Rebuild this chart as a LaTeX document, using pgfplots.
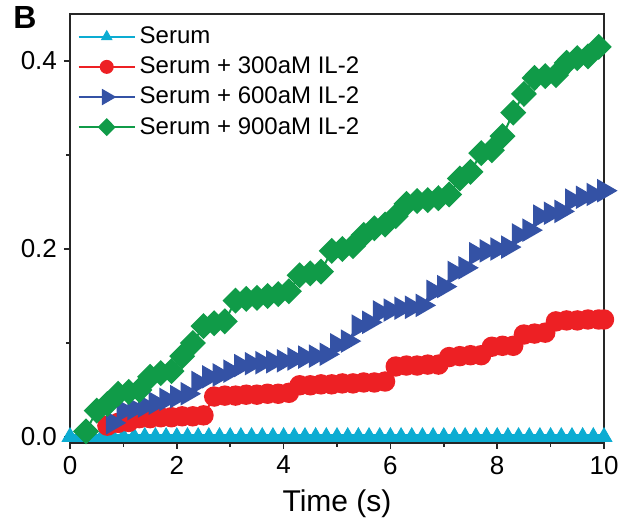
\documentclass[border=0pt]{standalone}
\usepackage{fontspec}
\setmainfont{Liberation Sans}
\usepackage{pgfplots}
\pgfplotsset{compat=1.18}

\definecolor{cserum}{RGB}{12,172,210}
\definecolor{cred}{RGB}{237,32,36}
\definecolor{cblue}{RGB}{52,82,165}
\definecolor{cgreen}{RGB}{16,155,72}

\begin{document}
\begin{tikzpicture}
\useasboundingbox (-35pt,-40.5pt) rectangle (278.5pt,221.5pt);
\begin{axis}[
    name=main,
    anchor=south west, at={(0pt,0pt)},
    width=267pt, height=214.5pt, scale only axis,
    xmin=0, xmax=10, ymin=-0.0064, ymax=0.45,
    xtick={0,2,...,10}, minor x tick num=1,
    ytick={0,0.2,0.4}, minor y tick num=1,
    tick align=outside, xtick pos=bottom, ytick pos=left,
    major tick length=3pt, minor tick length=2pt,
    axis line style={line width=0.75pt, black!85},
    every tick/.style={line width=0.75pt, black!85},
    yticklabel style={/pgf/number format/.cd, fixed, fixed zerofill, precision=1},
    /pgf/number format/assume math mode=true,
    ticklabel style={font=\fontsize{13}{15}\selectfont},
    xlabel={Time (s)},
    xlabel style={font=\fontsize{15}{18}\selectfont, yshift=-1pt},
    legend style={at={(0.01,0.985)}, anchor=north west, draw=none, fill=none,
        font=\fontsize{12}{13}\selectfont, row sep=1.2pt, inner sep=1pt,
        legend cell align=left},
    legend image code/.code={%
        \draw[mark repeat=2, mark phase=2, #1, line width=1pt,
            /tikz/every mark/.append style={scale=0.65}]
        plot coordinates {(0pt,0pt) (14pt,0pt) (28pt,0pt)};},
]

% Serum
\addplot[color=cserum, line width=3pt, mark=triangle*, mark size=4.5pt,
    mark options={fill=cserum, draw=cserum, line width=0.5pt}] coordinates {
(0.0,0.0) (0.2,0.0) (0.4,0.0) (0.6,0.0) (0.8,0.0) (1.0,0.0)
(1.2,0.0) (1.4,0.0) (1.6,0.0) (1.8,0.0) (2.0,0.0) (2.2,0.0)
(2.4,0.0) (2.6,0.0) (2.8,0.0) (3.0,0.0) (3.2,0.0) (3.4,0.0)
(3.6,0.0) (3.8,0.0) (4.0,0.0) (4.2,0.0) (4.4,0.0) (4.6,0.0)
(4.8,0.0) (5.0,0.0) (5.2,0.0) (5.4,0.0) (5.6,0.0) (5.8,0.0)
(6.0,0.0) (6.2,0.0) (6.4,0.0) (6.6,0.0) (6.8,0.0) (7.0,0.0)
(7.2,0.0) (7.4,0.0) (7.6,0.0) (7.8,0.0) (8.0,0.0) (8.2,0.0)
(8.4,0.0) (8.6,0.0) (8.8,0.0) (9.0,0.0) (9.2,0.0) (9.4,0.0)
(9.6,0.0) (9.8,0.0) (10.0,0.0)
};
\addlegendentry{Serum}

% Serum + 300aM IL-2
\addplot[color=cred, line width=1pt, mark=*, mark size=4.6pt,
    mark options={fill=cred, draw=cred}] coordinates {
(0.7,0.012) (0.9,0.015) (1.1,0.016) (1.3,0.020) (1.5,0.020)
(1.7,0.021) (1.9,0.021) (2.1,0.022) (2.3,0.022) (2.5,0.023)
(2.7,0.043) (2.9,0.044) (3.1,0.044) (3.3,0.045) (3.5,0.045)
(3.7,0.046) (3.9,0.046) (4.1,0.047) (4.3,0.055) (4.5,0.055)
(4.7,0.056) (4.9,0.056) (5.1,0.057) (5.3,0.057) (5.5,0.058)
(5.7,0.058) (5.9,0.059) (6.1,0.075) (6.3,0.076) (6.5,0.076)
(6.7,0.077) (6.9,0.077) (7.1,0.085) (7.3,0.086) (7.5,0.087)
(7.7,0.087) (7.9,0.096) (8.1,0.097) (8.3,0.097) (8.5,0.109)
(8.7,0.110) (8.9,0.111) (9.1,0.123) (9.3,0.124) (9.5,0.124)
(9.7,0.125) (9.9,0.125) (10.0,0.125)
};
\addlegendentry{Serum + 300aM IL-2}

% Serum + 600aM IL-2
\addplot[color=cblue, line width=1pt, mark=triangle*, mark size=5.8pt,
    mark options={fill=cblue, draw=cblue, rotate=-90}] coordinates {
(0.8,0.015) (1.0,0.028) (1.2,0.030) (1.4,0.033) (1.6,0.036)
(1.8,0.040) (2.0,0.043) (2.2,0.046) (2.4,0.058) (2.6,0.064)
(2.8,0.066) (3.0,0.070) (3.2,0.076) (3.4,0.078) (3.6,0.079)
(3.8,0.080) (4.0,0.081) (4.2,0.083) (4.4,0.085) (4.6,0.086)
(4.8,0.088) (5.0,0.098) (5.2,0.102) (5.4,0.118) (5.6,0.122)
(5.8,0.133) (6.0,0.135) (6.2,0.137) (6.4,0.138) (6.6,0.140)
(6.8,0.155) (7.0,0.160) (7.2,0.175) (7.4,0.180) (7.6,0.195)
(7.8,0.198) (8.0,0.200) (8.2,0.202) (8.4,0.215) (8.6,0.220)
(8.8,0.235) (9.0,0.238) (9.2,0.240) (9.4,0.252) (9.6,0.255)
(9.8,0.258) (10.0,0.262)
};
\addlegendentry{Serum + 600aM IL-2}

% Serum + 900aM IL-2
\addplot[color=cgreen, line width=1pt, mark=diamond*, mark size=5.8pt,
    mark options={fill=cgreen, draw=cgreen, xscale=1.33}] coordinates {
(0.3,0.006) (0.5,0.028) (0.7,0.035) (0.9,0.046) (1.1,0.048)
(1.3,0.050) (1.5,0.064) (1.7,0.068) (1.9,0.070) (2.1,0.086)
(2.3,0.100) (2.5,0.118) (2.7,0.121) (2.9,0.123) (3.1,0.145)
(3.3,0.147) (3.5,0.148) (3.7,0.150) (3.9,0.152) (4.1,0.155)
(4.3,0.172) (4.5,0.174) (4.7,0.176) (4.9,0.198) (5.1,0.200)
(5.3,0.203) (5.5,0.215) (5.7,0.222) (5.9,0.226) (6.1,0.235)
(6.3,0.248) (6.5,0.251) (6.7,0.252) (6.9,0.254) (7.1,0.258)
(7.3,0.275) (7.5,0.282) (7.7,0.302) (7.9,0.305) (8.1,0.320)
(8.3,0.345) (8.5,0.365) (8.7,0.382) (8.9,0.384) (9.1,0.385)
(9.3,0.398) (9.5,0.403) (9.7,0.405) (9.9,0.415)
};
\addlegendentry{Serum + 900aM IL-2}
\end{axis}
\node[font=\bfseries\fontsize{16}{19}\selectfont] at (main.north west) [xshift=-22.5pt, yshift=-2pt] {B};
\end{tikzpicture}
\end{document}
